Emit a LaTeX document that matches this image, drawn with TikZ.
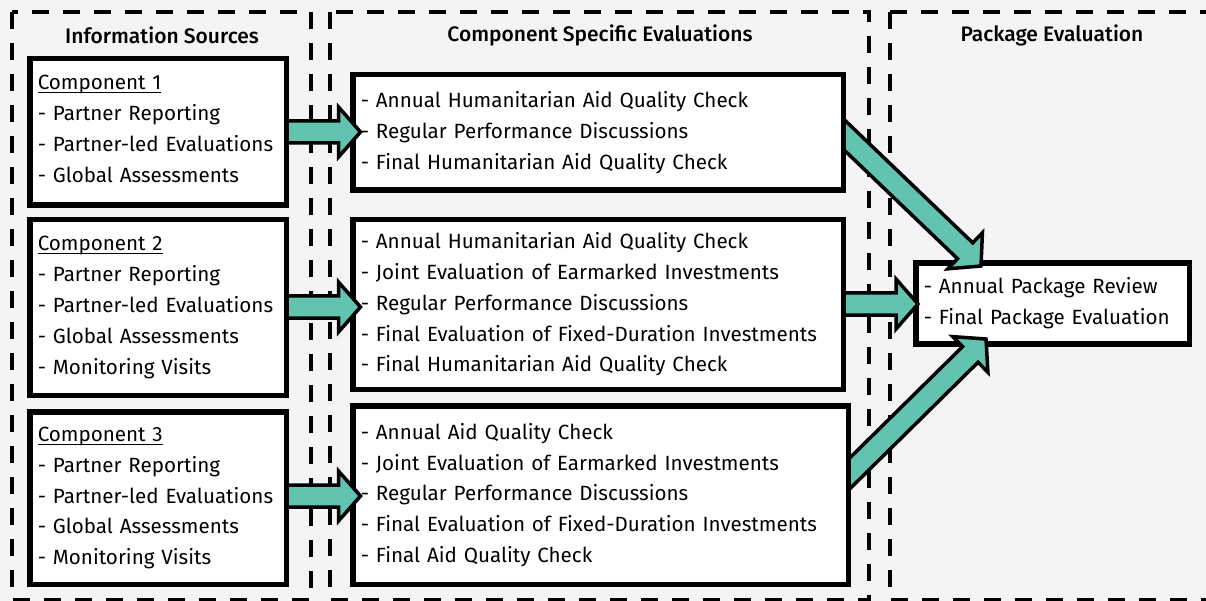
\documentclass[tikz,border=0pt]{standalone}
\usepackage{fontspec}
\setmainfont{Fira Sans}[BoldFont=* Medium]
\usetikzlibrary{calc}
\definecolor{bgc}{HTML}{F4F4F7}
\definecolor{tealc}{HTML}{62C4B0}
\newcommand\compul[1]{\setbox0\hbox{#1}\rlap{\rule[-3.5pt]{\wd0}{1.2pt}}\box0}
\tikzset{
  panel/.style={draw=black, line width=4pt, dash pattern=on 17pt off 14pt},
  box/.style={draw=black, line width=5.5pt, fill=white, rectangle, inner xsep=8pt, inner ysep=0pt,
    align=left, font=\fontsize{20.6}{30.8}\selectfont, anchor=center},
  title/.style={font=\bfseries\fontsize{21}{24}\selectfont},
  blockarrow/.style={draw=black, fill=tealc, line width=3.5pt, line join=miter, miter limit=10},
}
\newcommand\blockarr[3]{%
  \begin{scope}
    \clip (#1.east |- 0,-50) rectangle (1300,700);
    \coordinate (hb) at ($(#3)!22pt!(#2)$);
    \draw[blockarrow] ($(#2)!11pt!90:(#3)$) -- ($(hb)!11pt!90:(#3)$) -- ($(hb)!25pt!90:(#3)$)
      -- (#3) -- ($(hb)!25pt!-90:(#3)$) -- ($(hb)!11pt!-90:(#3)$) -- ($(#2)!11pt!-90:(#3)$) -- cycle;
  \end{scope}}
\begin{document}
\begin{tikzpicture}[x=1pt,y=-1pt]
\fill[bgc] (0,0) rectangle (1206,601);
\useasboundingbox (0,0) rectangle (1206,601);
% panels
\draw[panel] (12,12) rectangle (310.5,600);
\draw[panel] (329.5,12) rectangle (869,600);
\draw[panel] (889.5,12) rectangle (1240,600);
% titles
\node[title] (t1) at (162,35) {Information Sources};
\node[title] (t2) at (600,35) {Component Specific Evaluations};
\node[title] (t3) at (1052,35) {Package Evaluation};
% component boxes
\node[box, minimum width=256.5pt, minimum height=146.5pt, text width=240.5pt] (c1) at (158,132)
  {\compul{Component 1}\\- Partner Reporting\\- Partner-led Evaluations\\- Global Assessments\\[-24pt]\mbox{}};
\node[box, minimum width=256.5pt, minimum height=175.5pt, text width=240.5pt] (c2) at (158,307.5)
  {\compul{Component 2}\\- Partner Reporting\\- Partner-led Evaluations\\- Global Assessments\\- Monitoring Visits};
\node[box, minimum width=256.5pt, minimum height=172.5pt, text width=240.5pt] (c3) at (158,498)
  {\compul{Component 3}\\- Partner Reporting\\- Partner-led Evaluations\\- Global Assessments\\- Monitoring Visits};
% evaluation boxes
\node[box, minimum width=490.5pt, minimum height=115.5pt, text width=474.5pt] (e1) at (598,132.5)
  {- Annual Humanitarian Aid Quality Check\\- Regular Performance Discussions\\- Final Humanitarian Aid Quality Check};
\node[box, minimum width=490.5pt, minimum height=169.5pt, text width=474.5pt] (e2) at (598,304.5)
  {- Annual Humanitarian Aid Quality Check\\- Joint Evaluation of Earmarked Investments\\- Regular Performance Discussions\\- Final Evaluation of Fixed-Duration Investments\\- Final Humanitarian Aid Quality Check};
\node[box, minimum width=495.5pt, minimum height=178.5pt, text width=479.5pt] (e3) at (600.5,495)
  {- Annual Aid Quality Check\\- Joint Evaluation of Earmarked Investments\\- Regular Performance Discussions\\- Final Evaluation of Fixed-Duration Investments\\- Final Aid Quality Check};
% package box
\node[box, minimum width=273.5pt, minimum height=81pt, text width=257.5pt] (pk) at (1052.5,303.5)
  {- Annual Package Review\\- Final Package Evaluation};
% arrow end points
\coordinate (s1) at (280,132);   \coordinate (p1) at (360.5,132);
\coordinate (s2) at (280,307);   \coordinate (p2) at (360.5,307);
\coordinate (s3) at (280,496);   \coordinate (p3) at (360.5,496);
\coordinate (s4) at (838,304);   \coordinate (p4) at (918,304);
\coordinate (s5) at (836,127);   \coordinate (p5) at (981,266);
\coordinate (s6) at (839,484);   \coordinate (p6) at (986,339);
\blockarr{c1}{s1}{p1}
\blockarr{c2}{s2}{p2}
\blockarr{c3}{s3}{p3}
\blockarr{e2}{s4}{p4}
\blockarr{e1}{s5}{p5}
\blockarr{e3}{s6}{p6}
\end{tikzpicture}
\end{document}
